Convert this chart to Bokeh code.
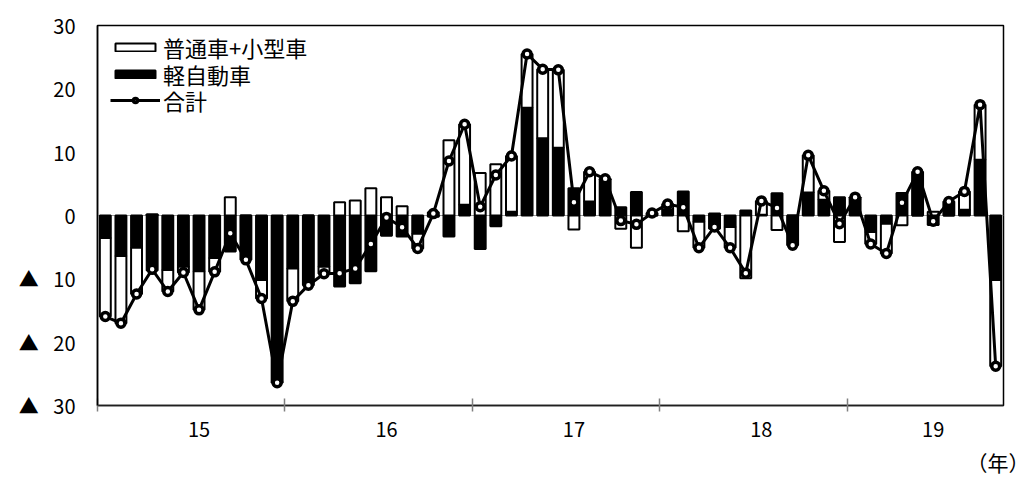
import numpy as np
from bokeh.plotting import figure
from bokeh.models import (ColumnDataSource, FixedTicker, Span, Legend, LegendItem,
                          Title, Range1d)
from bokeh.embed import file_html
from bokeh.resources import INLINE

# ---- data ----
years = ["15", "16", "17", "18", "19"]
months_per_year = [12, 12, 12, 12, 10]

# 軽自動車 contribution (pt)
kei = [-3.55, -6.4, -5.1, -8.7, -8.6, -8.1, -8.8, -6.7, -5.7, -7.0, -10.2, -26.3,
       -8.35, -11.0, -8.1, -11.2, -10.7, -8.8, -3.2, -3.3, -2.9, -0.2, -3.3, 1.7,
       -5.3, -1.7, 0.6, 17.0, 12.2, 10.7, 4.3, 2.2, 5.7, 1.3, 3.7, 0.4,
       1.0, 3.8, -1.0, -2.1, -1.8, 0.8, 0.1, 3.5, -4.7, 3.65, 2.5, 2.9,
       2.6, -2.6, -1.3, 3.55, 6.9, -1.5, 2.2, 0.9, 8.8, -10.2]
# 普通車+小型車 contribution (pt)
futsu = [-12.4, -10.6, -7.3, 0.2, -3.4, -0.9, -6.1, -2.2, 2.9, 0.0, -2.9, -0.1,
         -5.2, 0.0, -1.1, 2.1, 2.35, 4.3, 2.9, 1.45, -2.3, 0.5, 11.9, 12.7,
         6.7, 8.1, 8.8, 8.5, 10.9, 12.3, -2.2, 4.7, 0.1, -2.1, -5.1, 0.0,
         0.8, -2.5, -4.1, 0.3, -3.3, -9.9, 2.2, -2.3, 0.0, 5.85, 1.4, -4.2,
         0.3, -1.9, -4.7, -1.55, 0.0, 0.6, 0.0, 2.9, 8.7, -13.6]

series_labels = ["普通車+小型車", "軽自動車", "合計"]
y_ticks = [-30, -20, -10, 0, 10, 20, 30]
y_tick_labels = ["▲\u2002 30", "▲\u2002 20", "▲\u2002 10", "0", "10", "20", "30"]

FONT = "Noto Sans CJK JP"

# ---- derived ----
k = np.array(kei)
f = np.array(futsu)
total = k + f
x = np.arange(len(k))

k_bottom = np.minimum(k, 0.0)
k_top = np.maximum(k, 0.0)
same = np.sign(f) == np.sign(k)
base = np.where(same, k, 0.0)
f_bottom = np.minimum(base, base + f)
f_top = np.maximum(base, base + f)

src = ColumnDataSource(dict(x=x, kb=k_bottom, kt=k_top, fb=f_bottom, ft=f_top, total=total))

starts = np.cumsum([0] + months_per_year[:-1])
centers = [int(s + n / 2) for s, n in zip(starts, months_per_year)]
bounds = [float(s) - 0.5 for s in starts]

p = figure(width=1027, height=481,
           x_range=Range1d(-0.5, len(k) - 0.5), y_range=Range1d(-30, 30),
           output_backend="svg", toolbar_location=None,
           min_border_left=97, min_border_right=24, min_border_top=25, min_border_bottom=73)
p.grid.visible = False
p.outline_line_color = "black"
p.outline_line_width = 1.5
p.background_fill_color = "white"
p.border_fill_color = "white"

p.add_layout(Span(location=0, dimension="width", line_color="#9a9a9a", line_width=1, level="underlay"))

bw = 0.7
black_r = p.vbar(x="x", bottom="kb", top="kt", width=bw, source=src,
                 fill_color="black", line_color="black", line_width=2)
white_r = p.vbar(x="x", bottom="fb", top="ft", width=bw, source=src,
                 fill_color="white", line_color="black", line_width=2)
line_r = p.line(x="x", y="total", source=src, line_color="black", line_width=3)
mark_r = p.scatter(x="x", y="total", source=src, size=8, line_width=3.5,
                   fill_color="white", line_color="black")

# axes
xa = p.xaxis[0]
xa.ticker = FixedTicker(ticks=centers, minor_ticks=bounds)
xa.major_label_overrides = {c: yname for c, yname in zip(centers, years)}
xa.major_tick_line_color = None
xa.major_tick_in = 0
xa.major_tick_out = 0
xa.minor_tick_line_color = "#808080"
xa.minor_tick_line_width = 1.5
xa.minor_tick_in = 7
xa.minor_tick_out = 6
xa.axis_line_color = "#202020"
xa.axis_line_width = 1.5
xa.major_label_standoff = 10

ya = p.yaxis[0]
ya.ticker = FixedTicker(ticks=y_ticks)
ya.major_label_overrides = {t: s for t, s in zip(y_ticks, y_tick_labels)}
ya.major_tick_line_color = None
ya.minor_tick_line_color = None
ya.major_tick_in = 0
ya.major_tick_out = 0
ya.axis_line_color = "black"
ya.axis_line_width = 1.5
ya.major_label_standoff = 22

for ax in (xa, ya):
    ax.major_label_text_font = FONT
    ax.major_label_text_font_size = "20px"
    ax.major_label_text_color = "black"

# legend: one small legend per row so the rows can sit close together
legend_rows = [[white_r], [black_r], [line_r, mark_r]]
legend_y = [342, 315, 289]
for lab, rends, ly in zip(series_labels, legend_rows, legend_y):
    lg = Legend(items=[LegendItem(label=lab, renderers=rends)], location=(13, ly))
    lg.margin = 0
    lg.padding = 0
    lg.border_line_color = None
    lg.background_fill_alpha = 0
    lg.glyph_width = 50
    lg.glyph_height = 10
    lg.label_height = 20
    lg.spacing = 0
    lg.label_standoff = 3
    lg.label_text_font = FONT
    lg.label_text_font_size = "22px"
    lg.label_text_color = "black"
    p.add_layout(lg)

p.add_layout(Title(text="（年）", align="right", offset=-26, vertical_align="bottom", text_font=FONT,
                   text_font_size="21px", text_font_style="normal", text_color="black"), "below")

open("out.html", "w").write(file_html(p, INLINE))
